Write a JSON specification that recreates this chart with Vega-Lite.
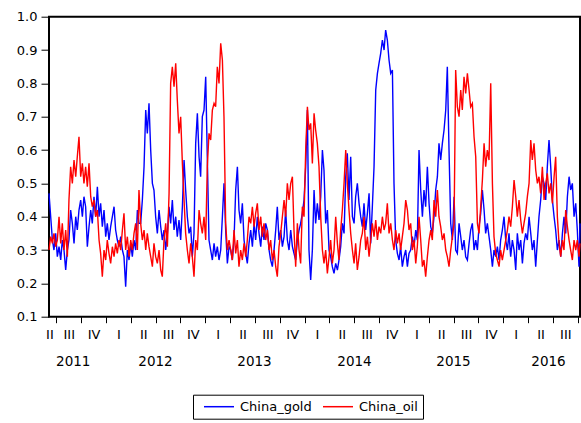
{
"$schema": "https://vega.github.io/schema/vega-lite/v6.json",
"width": 531, "height": 300,
"autosize": {"type": "none"},
"padding": {"left": 49, "top": 16.7, "right": 1, "bottom": 106.3},
"background": "white",
"config": {"view": {"stroke": "#000", "strokeWidth": 2}, "font": "DejaVu Sans"},
"resolve": {"axis": {"x": "independent"}},
"layer": [
{
"data": {"values": [
{"t":2011.426,"China_gold":0.47,"China_oil":0.30},{"t":2011.443,"China_gold":0.40,"China_oil":0.34},{"t":2011.460,"China_gold":0.33,"China_oil":0.32},{"t":2011.476,"China_gold":0.30,"China_oil":0.35},{"t":2011.493,"China_gold":0.35,"China_oil":0.31},{"t":2011.510,"China_gold":0.28,"China_oil":0.33},{"t":2011.527,"China_gold":0.31,"China_oil":0.40},{"t":2011.544,"China_gold":0.27,"China_oil":0.32},{"t":2011.560,"China_gold":0.33,"China_oil":0.38},{"t":2011.577,"China_gold":0.30,"China_oil":0.30},
{"t":2011.594,"China_gold":0.24,"China_oil":0.36},{"t":2011.611,"China_gold":0.30,"China_oil":0.28},{"t":2011.627,"China_gold":0.33,"China_oil":0.45},{"t":2011.644,"China_gold":0.42,"China_oil":0.55},{"t":2011.661,"China_gold":0.38,"China_oil":0.50},{"t":2011.678,"China_gold":0.32,"China_oil":0.57},{"t":2011.695,"China_gold":0.40,"China_oil":0.52},{"t":2011.711,"China_gold":0.36,"China_oil":0.58},{"t":2011.728,"China_gold":0.42,"China_oil":0.64},{"t":2011.745,"China_gold":0.45,"China_oil":0.52},
{"t":2011.762,"China_gold":0.40,"China_oil":0.56},{"t":2011.778,"China_gold":0.46,"China_oil":0.50},{"t":2011.795,"China_gold":0.43,"China_oil":0.55},{"t":2011.812,"China_gold":0.31,"China_oil":0.49},{"t":2011.829,"China_gold":0.37,"China_oil":0.56},{"t":2011.846,"China_gold":0.42,"China_oil":0.46},{"t":2011.862,"China_gold":0.38,"China_oil":0.43},{"t":2011.879,"China_gold":0.46,"China_oil":0.45},{"t":2011.896,"China_gold":0.40,"China_oil":0.40},{"t":2011.913,"China_gold":0.49,"China_oil":0.42},
{"t":2011.930,"China_gold":0.40,"China_oil":0.33},{"t":2011.946,"China_gold":0.44,"China_oil":0.29},{"t":2011.963,"China_gold":0.37,"China_oil":0.22},{"t":2011.980,"China_gold":0.42,"China_oil":0.30},{"t":2011.997,"China_gold":0.34,"China_oil":0.27},{"t":2012.013,"China_gold":0.38,"China_oil":0.33},{"t":2012.030,"China_gold":0.33,"China_oil":0.29},{"t":2012.047,"China_gold":0.37,"China_oil":0.26},{"t":2012.064,"China_gold":0.40,"China_oil":0.31},{"t":2012.081,"China_gold":0.43,"China_oil":0.28},
{"t":2012.097,"China_gold":0.36,"China_oil":0.32},{"t":2012.114,"China_gold":0.33,"China_oil":0.29},{"t":2012.131,"China_gold":0.31,"China_oil":0.33},{"t":2012.148,"China_gold":0.34,"China_oil":0.30},{"t":2012.165,"China_gold":0.30,"China_oil":0.36},{"t":2012.181,"China_gold":0.28,"China_oil":0.41},{"t":2012.198,"China_gold":0.19,"China_oil":0.30},{"t":2012.215,"China_gold":0.30,"China_oil":0.34},{"t":2012.232,"China_gold":0.27,"China_oil":0.28},{"t":2012.249,"China_gold":0.32,"China_oil":0.33},
{"t":2012.265,"China_gold":0.28,"China_oil":0.30},{"t":2012.282,"China_gold":0.33,"China_oil":0.35},{"t":2012.299,"China_gold":0.30,"China_oil":0.38},{"t":2012.316,"China_gold":0.42,"China_oil":0.30},{"t":2012.332,"China_gold":0.38,"China_oil":0.48},{"t":2012.349,"China_gold":0.38,"China_oil":0.38},{"t":2012.366,"China_gold":0.45,"China_oil":0.33},{"t":2012.383,"China_gold":0.55,"China_oil":0.36},{"t":2012.400,"China_gold":0.72,"China_oil":0.30},{"t":2012.416,"China_gold":0.65,"China_oil":0.35},
{"t":2012.433,"China_gold":0.74,"China_oil":0.31},{"t":2012.450,"China_gold":0.60,"China_oil":0.28},{"t":2012.467,"China_gold":0.50,"China_oil":0.25},{"t":2012.483,"China_gold":0.48,"China_oil":0.32},{"t":2012.500,"China_gold":0.40,"China_oil":0.28},{"t":2012.517,"China_gold":0.35,"China_oil":0.26},{"t":2012.534,"China_gold":0.42,"China_oil":0.30},{"t":2012.551,"China_gold":0.37,"China_oil":0.24},{"t":2012.567,"China_gold":0.33,"China_oil":0.22},{"t":2012.584,"China_gold":0.36,"China_oil":0.33},
{"t":2012.601,"China_gold":0.30,"China_oil":0.38},{"t":2012.618,"China_gold":0.35,"China_oil":0.31},{"t":2012.635,"China_gold":0.43,"China_oil":0.47},{"t":2012.651,"China_gold":0.38,"China_oil":0.80},{"t":2012.668,"China_gold":0.45,"China_oil":0.85},{"t":2012.685,"China_gold":0.36,"China_oil":0.79},{"t":2012.702,"China_gold":0.40,"China_oil":0.86},{"t":2012.718,"China_gold":0.34,"China_oil":0.75},{"t":2012.735,"China_gold":0.39,"China_oil":0.65},{"t":2012.752,"China_gold":0.33,"China_oil":0.70},
{"t":2012.769,"China_gold":0.43,"China_oil":0.56},{"t":2012.786,"China_gold":0.57,"China_oil":0.45},{"t":2012.802,"China_gold":0.48,"China_oil":0.35},{"t":2012.819,"China_gold":0.40,"China_oil":0.30},{"t":2012.836,"China_gold":0.35,"China_oil":0.26},{"t":2012.853,"China_gold":0.37,"China_oil":0.32},{"t":2012.869,"China_gold":0.28,"China_oil":0.28},{"t":2012.886,"China_gold":0.35,"China_oil":0.22},{"t":2012.903,"China_gold":0.62,"China_oil":0.33},{"t":2012.920,"China_gold":0.71,"China_oil":0.30},
{"t":2012.937,"China_gold":0.58,"China_oil":0.42},{"t":2012.953,"China_gold":0.52,"China_oil":0.38},{"t":2012.970,"China_gold":0.70,"China_oil":0.35},{"t":2012.987,"China_gold":0.72,"China_oil":0.40},{"t":2013.004,"China_gold":0.82,"China_oil":0.33},{"t":2013.020,"China_gold":0.58,"China_oil":0.55},{"t":2013.037,"China_gold":0.33,"China_oil":0.65},{"t":2013.054,"China_gold":0.30,"China_oil":0.63},{"t":2013.071,"China_gold":0.27,"China_oil":0.72},{"t":2013.088,"China_gold":0.32,"China_oil":0.74},
{"t":2013.104,"China_gold":0.28,"China_oil":0.73},{"t":2013.121,"China_gold":0.31,"China_oil":0.85},{"t":2013.138,"China_gold":0.27,"China_oil":0.80},{"t":2013.155,"China_gold":0.30,"China_oil":0.92},{"t":2013.172,"China_gold":0.40,"China_oil":0.87},{"t":2013.188,"China_gold":0.50,"China_oil":0.70},{"t":2013.205,"China_gold":0.36,"China_oil":0.38},{"t":2013.222,"China_gold":0.26,"China_oil":0.30},{"t":2013.239,"China_gold":0.31,"China_oil":0.33},{"t":2013.256,"China_gold":0.30,"China_oil":0.30},
{"t":2013.272,"China_gold":0.27,"China_oil":0.27},{"t":2013.289,"China_gold":0.33,"China_oil":0.36},{"t":2013.306,"China_gold":0.48,"China_oil":0.29},{"t":2013.323,"China_gold":0.55,"China_oil":0.33},{"t":2013.339,"China_gold":0.42,"China_oil":0.25},{"t":2013.356,"China_gold":0.38,"China_oil":0.30},{"t":2013.373,"China_gold":0.44,"China_oil":0.27},{"t":2013.390,"China_gold":0.33,"China_oil":0.32},{"t":2013.407,"China_gold":0.29,"China_oil":0.28},{"t":2013.423,"China_gold":0.26,"China_oil":0.33},
{"t":2013.440,"China_gold":0.32,"China_oil":0.40},{"t":2013.457,"China_gold":0.36,"China_oil":0.38},{"t":2013.474,"China_gold":0.31,"China_oil":0.43},{"t":2013.491,"China_gold":0.38,"China_oil":0.37},{"t":2013.507,"China_gold":0.33,"China_oil":0.41},{"t":2013.524,"China_gold":0.40,"China_oil":0.44},{"t":2013.541,"China_gold":0.35,"China_oil":0.36},{"t":2013.558,"China_gold":0.31,"China_oil":0.40},{"t":2013.574,"China_gold":0.37,"China_oil":0.34},{"t":2013.591,"China_gold":0.33,"China_oil":0.38},
{"t":2013.608,"China_gold":0.38,"China_oil":0.33},{"t":2013.625,"China_gold":0.36,"China_oil":0.36},{"t":2013.642,"China_gold":0.30,"China_oil":0.30},{"t":2013.658,"China_gold":0.27,"China_oil":0.33},{"t":2013.675,"China_gold":0.25,"China_oil":0.27},{"t":2013.692,"China_gold":0.30,"China_oil":0.30},{"t":2013.709,"China_gold":0.36,"China_oil":0.25},{"t":2013.725,"China_gold":0.43,"China_oil":0.22},{"t":2013.742,"China_gold":0.33,"China_oil":0.31},{"t":2013.759,"China_gold":0.36,"China_oil":0.35},
{"t":2013.776,"China_gold":0.31,"China_oil":0.40},{"t":2013.793,"China_gold":0.34,"China_oil":0.45},{"t":2013.809,"China_gold":0.42,"China_oil":0.40},{"t":2013.826,"China_gold":0.33,"China_oil":0.50},{"t":2013.843,"China_gold":0.30,"China_oil":0.45},{"t":2013.860,"China_gold":0.36,"China_oil":0.50},{"t":2013.877,"China_gold":0.31,"China_oil":0.52},{"t":2013.893,"China_gold":0.29,"China_oil":0.36},{"t":2013.910,"China_gold":0.27,"China_oil":0.25},{"t":2013.927,"China_gold":0.33,"China_oil":0.38},
{"t":2013.944,"China_gold":0.36,"China_oil":0.30},{"t":2013.960,"China_gold":0.38,"China_oil":0.26},{"t":2013.977,"China_gold":0.41,"China_oil":0.43},{"t":2013.994,"China_gold":0.45,"China_oil":0.40},{"t":2014.011,"China_gold":0.55,"China_oil":0.60},{"t":2014.028,"China_gold":0.72,"China_oil":0.73},{"t":2014.044,"China_gold":0.30,"China_oil":0.66},{"t":2014.061,"China_gold":0.21,"China_oil":0.68},{"t":2014.078,"China_gold":0.30,"China_oil":0.56},{"t":2014.095,"China_gold":0.48,"China_oil":0.71},
{"t":2014.111,"China_gold":0.38,"China_oil":0.66},{"t":2014.128,"China_gold":0.44,"China_oil":0.62},{"t":2014.145,"China_gold":0.39,"China_oil":0.55},{"t":2014.162,"China_gold":0.46,"China_oil":0.40},{"t":2014.179,"China_gold":0.60,"China_oil":0.30},{"t":2014.195,"China_gold":0.54,"China_oil":0.26},{"t":2014.212,"China_gold":0.38,"China_oil":0.30},{"t":2014.229,"China_gold":0.42,"China_oil":0.23},{"t":2014.246,"China_gold":0.30,"China_oil":0.28},{"t":2014.262,"China_gold":0.28,"China_oil":0.33},
{"t":2014.279,"China_gold":0.25,"China_oil":0.26},{"t":2014.296,"China_gold":0.23,"China_oil":0.30},{"t":2014.313,"China_gold":0.26,"China_oil":0.40},{"t":2014.330,"China_gold":0.24,"China_oil":0.32},{"t":2014.346,"China_gold":0.27,"China_oil":0.27},{"t":2014.363,"China_gold":0.31,"China_oil":0.36},{"t":2014.380,"China_gold":0.38,"China_oil":0.42},{"t":2014.397,"China_gold":0.35,"China_oil":0.50},{"t":2014.414,"China_gold":0.52,"China_oil":0.60},{"t":2014.430,"China_gold":0.59,"China_oil":0.50},
{"t":2014.447,"China_gold":0.45,"China_oil":0.42},{"t":2014.464,"China_gold":0.58,"China_oil":0.35},{"t":2014.481,"China_gold":0.40,"China_oil":0.30},{"t":2014.498,"China_gold":0.38,"China_oil":0.26},{"t":2014.514,"China_gold":0.46,"China_oil":0.32},{"t":2014.531,"China_gold":0.50,"China_oil":0.24},{"t":2014.548,"China_gold":0.44,"China_oil":0.28},{"t":2014.565,"China_gold":0.40,"China_oil":0.33},{"t":2014.581,"China_gold":0.37,"China_oil":0.35},{"t":2014.598,"China_gold":0.44,"China_oil":0.40},
{"t":2014.615,"China_gold":0.36,"China_oil":0.30},{"t":2014.632,"China_gold":0.41,"China_oil":0.34},{"t":2014.649,"China_gold":0.47,"China_oil":0.28},{"t":2014.665,"China_gold":0.32,"China_oil":0.33},{"t":2014.682,"China_gold":0.43,"China_oil":0.38},{"t":2014.699,"China_gold":0.55,"China_oil":0.34},{"t":2014.716,"China_gold":0.78,"China_oil":0.39},{"t":2014.733,"China_gold":0.83,"China_oil":0.33},{"t":2014.749,"China_gold":0.86,"China_oil":0.37},{"t":2014.766,"China_gold":0.89,"China_oil":0.35},
{"t":2014.783,"China_gold":0.93,"China_oil":0.40},{"t":2014.800,"China_gold":0.90,"China_oil":0.36},{"t":2014.816,"China_gold":0.96,"China_oil":0.38},{"t":2014.833,"China_gold":0.93,"China_oil":0.44},{"t":2014.850,"China_gold":0.87,"China_oil":0.35},{"t":2014.867,"China_gold":0.83,"China_oil":0.38},{"t":2014.884,"China_gold":0.84,"China_oil":0.33},{"t":2014.900,"China_gold":0.50,"China_oil":0.30},{"t":2014.917,"China_gold":0.33,"China_oil":0.36},{"t":2014.934,"China_gold":0.29,"China_oil":0.32},
{"t":2014.951,"China_gold":0.27,"China_oil":0.35},{"t":2014.967,"China_gold":0.31,"China_oil":0.30},{"t":2014.984,"China_gold":0.25,"China_oil":0.34},{"t":2015.001,"China_gold":0.28,"China_oil":0.38},{"t":2015.018,"China_gold":0.30,"China_oil":0.45},{"t":2015.035,"China_gold":0.25,"China_oil":0.42},{"t":2015.051,"China_gold":0.29,"China_oil":0.36},{"t":2015.068,"China_gold":0.30,"China_oil":0.38},{"t":2015.085,"China_gold":0.34,"China_oil":0.30},{"t":2015.102,"China_gold":0.31,"China_oil":0.33},
{"t":2015.119,"China_gold":0.36,"China_oil":0.26},{"t":2015.135,"China_gold":0.33,"China_oil":0.31},{"t":2015.152,"China_gold":0.60,"China_oil":0.40},{"t":2015.169,"China_gold":0.48,"China_oil":0.33},{"t":2015.186,"China_gold":0.40,"China_oil":0.25},{"t":2015.202,"China_gold":0.48,"China_oil":0.27},{"t":2015.219,"China_gold":0.43,"China_oil":0.22},{"t":2015.236,"China_gold":0.55,"China_oil":0.28},{"t":2015.253,"China_gold":0.44,"China_oil":0.33},{"t":2015.270,"China_gold":0.37,"China_oil":0.36},
{"t":2015.286,"China_gold":0.35,"China_oil":0.33},{"t":2015.303,"China_gold":0.40,"China_oil":0.45},{"t":2015.320,"China_gold":0.48,"China_oil":0.40},{"t":2015.337,"China_gold":0.52,"China_oil":0.48},{"t":2015.353,"China_gold":0.62,"China_oil":0.40},{"t":2015.370,"China_gold":0.57,"China_oil":0.37},{"t":2015.387,"China_gold":0.62,"China_oil":0.33},{"t":2015.404,"China_gold":0.66,"China_oil":0.35},{"t":2015.421,"China_gold":0.72,"China_oil":0.30},{"t":2015.437,"China_gold":0.85,"China_oil":0.28},
{"t":2015.454,"China_gold":0.60,"China_oil":0.25},{"t":2015.471,"China_gold":0.38,"China_oil":0.30},{"t":2015.488,"China_gold":0.33,"China_oil":0.34},{"t":2015.505,"China_gold":0.46,"China_oil":0.38},{"t":2015.521,"China_gold":0.30,"China_oil":0.84},{"t":2015.538,"China_gold":0.29,"China_oil":0.73},{"t":2015.555,"China_gold":0.38,"China_oil":0.70},{"t":2015.572,"China_gold":0.34,"China_oil":0.78},{"t":2015.588,"China_gold":0.30,"China_oil":0.72},{"t":2015.605,"China_gold":0.33,"China_oil":0.82},
{"t":2015.622,"China_gold":0.28,"China_oil":0.77},{"t":2015.639,"China_gold":0.27,"China_oil":0.83},{"t":2015.656,"China_gold":0.32,"China_oil":0.78},{"t":2015.672,"China_gold":0.36,"China_oil":0.73},{"t":2015.689,"China_gold":0.38,"China_oil":0.74},{"t":2015.706,"China_gold":0.30,"China_oil":0.64},{"t":2015.723,"China_gold":0.33,"China_oil":0.58},{"t":2015.740,"China_gold":0.30,"China_oil":0.38},{"t":2015.756,"China_gold":0.37,"China_oil":0.35},{"t":2015.773,"China_gold":0.41,"China_oil":0.43},
{"t":2015.790,"China_gold":0.48,"China_oil":0.51},{"t":2015.807,"China_gold":0.42,"China_oil":0.62},{"t":2015.823,"China_gold":0.35,"China_oil":0.55},{"t":2015.840,"China_gold":0.38,"China_oil":0.60},{"t":2015.857,"China_gold":0.34,"China_oil":0.57},{"t":2015.874,"China_gold":0.30,"China_oil":0.80},{"t":2015.891,"China_gold":0.25,"China_oil":0.50},{"t":2015.907,"China_gold":0.30,"China_oil":0.34},{"t":2015.924,"China_gold":0.28,"China_oil":0.29},{"t":2015.941,"China_gold":0.31,"China_oil":0.27},
{"t":2015.958,"China_gold":0.27,"China_oil":0.25},{"t":2015.974,"China_gold":0.33,"China_oil":0.30},{"t":2015.991,"China_gold":0.36,"China_oil":0.27},{"t":2016.008,"China_gold":0.40,"China_oil":0.30},{"t":2016.025,"China_gold":0.33,"China_oil":0.33},{"t":2016.042,"China_gold":0.30,"China_oil":0.36},{"t":2016.058,"China_gold":0.35,"China_oil":0.40},{"t":2016.075,"China_gold":0.28,"China_oil":0.37},{"t":2016.092,"China_gold":0.33,"China_oil":0.43},{"t":2016.109,"China_gold":0.30,"China_oil":0.51},
{"t":2016.126,"China_gold":0.24,"China_oil":0.46},{"t":2016.142,"China_gold":0.35,"China_oil":0.40},{"t":2016.159,"China_gold":0.30,"China_oil":0.45},{"t":2016.176,"China_gold":0.33,"China_oil":0.39},{"t":2016.193,"China_gold":0.26,"China_oil":0.35},{"t":2016.209,"China_gold":0.32,"China_oil":0.38},{"t":2016.226,"China_gold":0.35,"China_oil":0.41},{"t":2016.243,"China_gold":0.33,"China_oil":0.46},{"t":2016.260,"China_gold":0.40,"China_oil":0.50},{"t":2016.277,"China_gold":0.35,"China_oil":0.63},
{"t":2016.293,"China_gold":0.30,"China_oil":0.57},{"t":2016.310,"China_gold":0.33,"China_oil":0.62},{"t":2016.327,"China_gold":0.25,"China_oil":0.54},{"t":2016.344,"China_gold":0.33,"China_oil":0.50},{"t":2016.360,"China_gold":0.40,"China_oil":0.52},{"t":2016.377,"China_gold":0.45,"China_oil":0.47},{"t":2016.394,"China_gold":0.52,"China_oil":0.55},{"t":2016.411,"China_gold":0.50,"China_oil":0.45},{"t":2016.428,"China_gold":0.45,"China_oil":0.50},{"t":2016.444,"China_gold":0.55,"China_oil":0.53},
{"t":2016.461,"China_gold":0.63,"China_oil":0.47},{"t":2016.478,"China_gold":0.55,"China_oil":0.50},{"t":2016.495,"China_gold":0.45,"China_oil":0.44},{"t":2016.512,"China_gold":0.40,"China_oil":0.52},{"t":2016.528,"China_gold":0.36,"China_oil":0.58},{"t":2016.545,"China_gold":0.30,"China_oil":0.40},{"t":2016.562,"China_gold":0.33,"China_oil":0.32},{"t":2016.579,"China_gold":0.28,"China_oil":0.28},{"t":2016.596,"China_gold":0.35,"China_oil":0.33},{"t":2016.612,"China_gold":0.40,"China_oil":0.30},
{"t":2016.629,"China_gold":0.35,"China_oil":0.42},{"t":2016.646,"China_gold":0.46,"China_oil":0.37},{"t":2016.663,"China_gold":0.52,"China_oil":0.33},{"t":2016.679,"China_gold":0.48,"China_oil":0.30},{"t":2016.696,"China_gold":0.50,"China_oil":0.27},{"t":2016.713,"China_gold":0.40,"China_oil":0.33},{"t":2016.730,"China_gold":0.44,"China_oil":0.30},{"t":2016.746,"China_gold":0.36,"China_oil":0.33},{"t":2016.763,"China_gold":0.25,"China_oil":0.28},{"t":2016.773,"China_gold":0.38,"China_oil":0.32}
]},
"transform": [{"fold": ["China_gold", "China_oil"], "as": ["series", "value"]}],
"mark": {"type": "line", "strokeWidth": 1.4},
"encoding": {
"x": {"field": "t", "type": "quantitative",
"scale": {"domain": [2011.426, 2016.773], "nice": false, "zero": false},
"axis": {"orient": "bottom", "title": null, "values": [2011.5,2011.75,2012,2012.25,2012.5,2012.75,2013,2013.25,2013.5,2013.75,2014,2014.25,2014.5,2014.75,2015,2015.25,2015.5,2015.75,2016,2016.25,2016.5,2016.75],
"labels": false, "domain": false, "grid": false, "ticks": true, "tickSize": 6, "tickColor": "#000", "tickWidth": 1}},
"y": {"field": "value", "type": "quantitative",
"scale": {"domain": [0.1, 1.0], "nice": false, "zero": false},
"axis": {"title": null, "values": [0.1,0.2,0.3,0.4,0.5,0.6,0.7,0.8,0.9,1.0], "format": ".1f", "tickSize": 8, "labelPadding": 4, "domain": false, "grid": false, "tickColor": "#000", "labelColor": "#000", "labelFont": "DejaVu Sans", "labelFontSize": 13}},
"color": {"field": "series", "type": "nominal",
"scale": {"domain": ["China_gold", "China_oil"], "range": ["#0000ff", "#ff0000"]},
"legend": {"orient": "none", "legendX": 144, "legendY": 378, "direction": "horizontal", "title": null, "symbolType": "M-2.5,0H2.5", "symbolSize": 144, "symbolOffset": 14, "symbolStrokeWidth": 1.5, "labelFont": "DejaVu Sans", "labelFontSize": 13, "labelColor": "#000", "labelOffset": 14, "columnPadding": 5, "padding": 5, "strokeColor": "#000", "fillColor": "#fff"}}
}
},
{
"data": {"values": [{"t": 2011.426}, {"t": 2016.773}]},
"mark": {"type": "point", "opacity": 0},
"encoding": {
"x": {"field": "t", "type": "quantitative",
"axis": {"orient": "bottom", "title": null, "values": [2011.43,2011.625,2011.875,2012.125,2012.375,2012.625,2012.875,2013.125,2013.375,2013.625,2013.875,2014.125,2014.375,2014.625,2014.875,2015.125,2015.375,2015.625,2015.875,2016.125,2016.375,2016.625],
"labelExpr": "(datum.value % 1) < 0.25 ? 'I' : (datum.value % 1) < 0.5 ? 'II' : (datum.value % 1) < 0.75 ? 'III' : 'IV'",
"ticks": false, "tickSize": 0, "domain": false, "grid": false, "labelPadding": 12, "labelFlush": false, "labelOverlap": false, "labelBound": false, "labelColor": "#000", "labelFont": "DejaVu Sans", "labelFontSize": 13}}
}
},
{
"data": {"values": [{"t": 2011.426}, {"t": 2016.773}]},
"mark": {"type": "point", "opacity": 0},
"encoding": {
"x": {"field": "t", "type": "quantitative",
"axis": {"orient": "bottom", "title": null, "values": [2011.665,2012.493,2013.49,2014.497,2015.494,2016.451],
"labelExpr": "'' + floor(datum.value)",
"ticks": false, "tickSize": 0, "domain": false, "grid": false, "labelPadding": 38, "labelFlush": false, "labelOverlap": false, "labelBound": false, "labelColor": "#000", "labelFont": "DejaVu Sans", "labelFontSize": 13.5}}
}
}
]
}
